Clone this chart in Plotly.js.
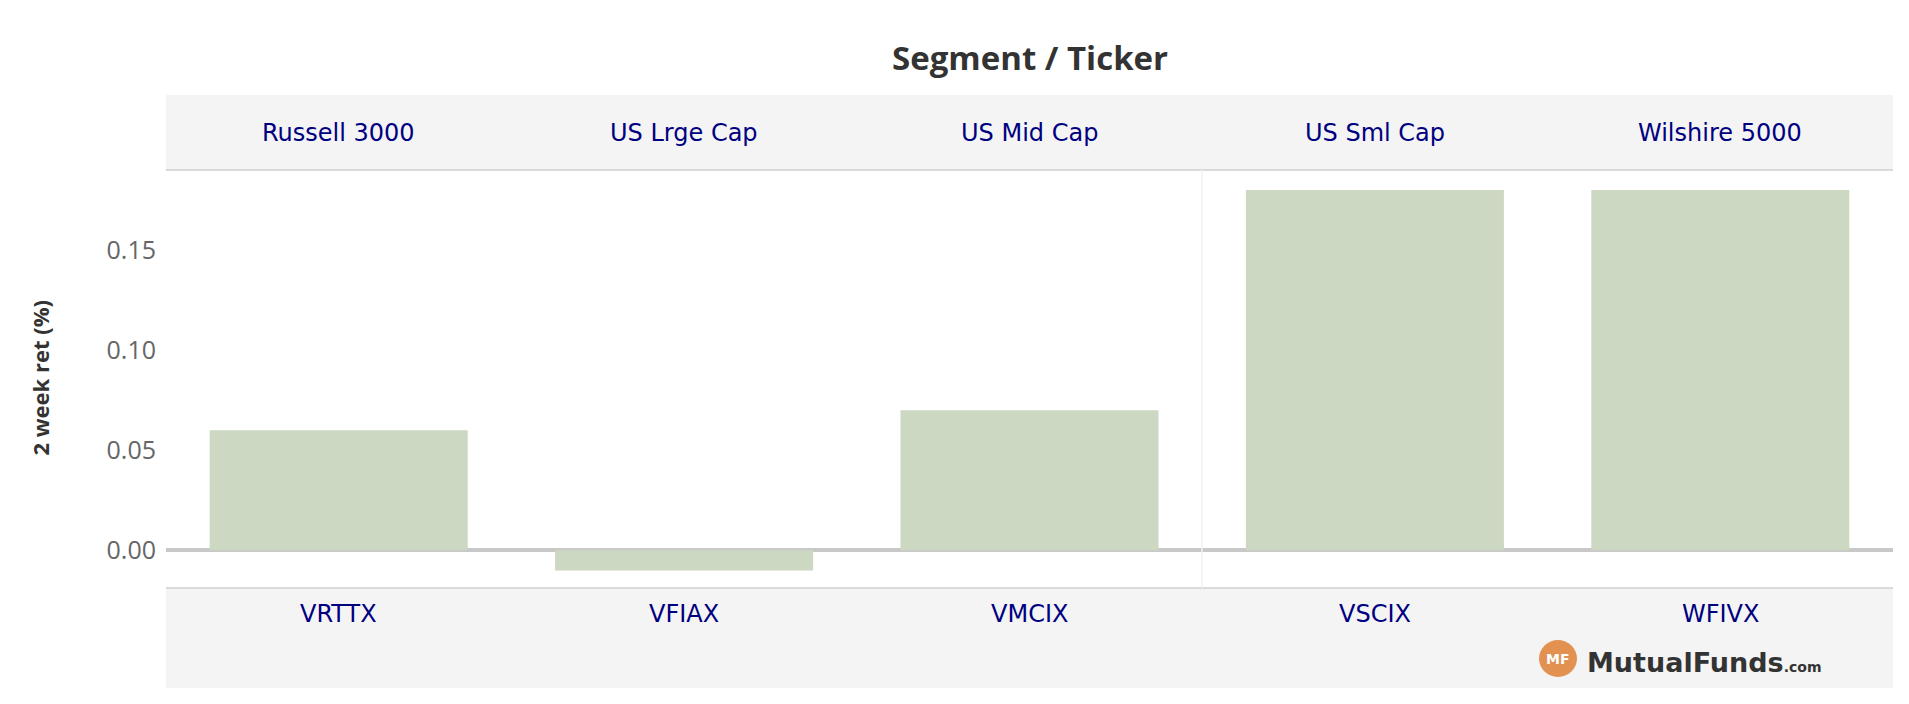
<!DOCTYPE html>
<html>
<head>
<meta charset="utf-8">
<script src="https://cdn.plot.ly/plotly-3.0.1.min.js"></script>
<style>
  html, body { margin: 0; padding: 0; background: #ffffff; }
  #chart { width: 1909px; height: 704px; }
</style>
</head>
<body>
<div id="chart"></div>
<script>
// ---- data ----
const segments = ["Russell 3000", "US Lrge Cap", "US Mid Cap", "US Sml Cap", "Wilshire 5000"];
const tickers  = ["VRTTX", "VFIAX", "VMCIX", "VSCIX", "WFIVX"];
const returns2w = [0.06, -0.01, 0.07, 0.18, 0.18];
const yTickVals = [0.00, 0.05, 0.10, 0.15];
const yTickText = ["0.00", "0.05", "0.10", "0.15"];
const chartTitle = "Segment / Ticker";
const yTitle = "2 week ret (%)";

// ---- geometry helpers (pixel -> paper) ----
const W = 1909, H = 704;
const L = 166, R = 1893, T = 170, B = 588;
const pw = R - L, ph = B - T;
const px = v => (v - L) / pw;
const py = v => (B - v) / ph;

const navy = "#000080";
const bandColor = "#f4f4f4";
const lineColor = "#cfcfcf";

const annotations = [];
segments.forEach((s, i) => annotations.push({
  text: s, x: i, xref: "x", y: py(133), yref: "paper",
  xanchor: "center", yanchor: "middle", showarrow: false,
  font: {family: "DejaVu Sans", size: 24, color: navy}
}));
tickers.forEach((t, i) => annotations.push({
  text: t, x: i, xref: "x", y: py(614), yref: "paper",
  xanchor: "center", yanchor: "middle", showarrow: false,
  font: {family: "DejaVu Sans", size: 24, color: navy}
}));
annotations.push({
  text: "<b>" + chartTitle + "</b>", x: 0.5, xref: "paper", y: py(58), yref: "paper",
  xanchor: "center", yanchor: "middle", showarrow: false,
  font: {family: "Open Sans", size: 33, color: "#333333"}
});
annotations.push({
  text: "<b>" + yTitle + "</b>", x: px(39), xref: "paper", y: py(378.5), yref: "paper",
  xanchor: "center", yanchor: "middle", showarrow: false, textangle: -90,
  font: {family: "Open Sans", size: 22, color: "#333333"}
});
// logo
annotations.push({
  text: "<b>MF</b>", x: px(1558), xref: "paper", y: py(658.5), yref: "paper",
  xanchor: "center", yanchor: "middle", showarrow: false,
  font: {family: "DejaVu Sans", size: 14, color: "#ffffff"}
});
annotations.push({
  text: "<b>MutualFunds<span style='font-size:14px'>.com</span></b>",
  x: px(1585), xref: "paper", y: py(662), yref: "paper",
  xanchor: "left", yanchor: "middle", showarrow: false,
  font: {family: "DejaVu Sans", size: 27, color: "#333333"}
});

const shapes = [
  // header band
  {type: "rect", xref: "paper", yref: "paper", x0: 0, x1: 1, y0: py(170), y1: py(95),
   fillcolor: bandColor, line: {width: 0}, layer: "below"},
  // bottom band
  {type: "rect", xref: "paper", yref: "paper", x0: 0, x1: 1, y0: py(688), y1: py(588),
   fillcolor: bandColor, line: {width: 0}, layer: "below"},
  {type: "line", xref: "paper", yref: "paper", x0: 0, x1: 1, y0: py(170), y1: py(170),
   line: {color: lineColor, width: 1.5}},
  {type: "line", xref: "paper", yref: "paper", x0: 0, x1: 1, y0: py(588), y1: py(588),
   line: {color: lineColor, width: 1.5}},
  // panel separator
  {type: "line", xref: "paper", yref: "paper", x0: px(1202), x1: px(1202), y0: py(588), y1: py(170),
   line: {color: "#f2f2f2", width: 1.5}},
  // logo circle
  {type: "circle", xref: "paper", yref: "paper", x0: px(1539), x1: px(1577), y0: py(677), y1: py(640),
   fillcolor: "#e39150", line: {width: 0}}
];

const trace = {
  type: "bar", x: tickers, y: returns2w,
  marker: {color: "#cdd8c2"}, hoverinfo: "x+y"
};

const layout = {
  width: W, height: H,
  margin: {l: L, r: W - R, t: T, b: H - B, pad: 0},
  paper_bgcolor: "#ffffff", plot_bgcolor: "#ffffff",
  showlegend: false,
  bargap: 0.253,
  xaxis: {type: "category", range: [-0.5, 4.5], showticklabels: false, showgrid: false,
          zeroline: false, showline: false, ticks: ""},
  yaxis: {range: [-0.0188, 0.190], tickvals: yTickVals, ticktext: yTickText,
          showgrid: false, zeroline: true, zerolinecolor: "#c8c8c8", zerolinewidth: 4,
          showline: false, ticks: "", ticklabelstandoff: 9,
          tickfont: {family: "Open Sans", size: 25, color: "#666666"}},
  shapes: shapes,
  annotations: annotations
};

Plotly.newPlot("chart", [trace], layout, {displayModeBar: false, staticPlot: true});
</script>
</body>
</html>
